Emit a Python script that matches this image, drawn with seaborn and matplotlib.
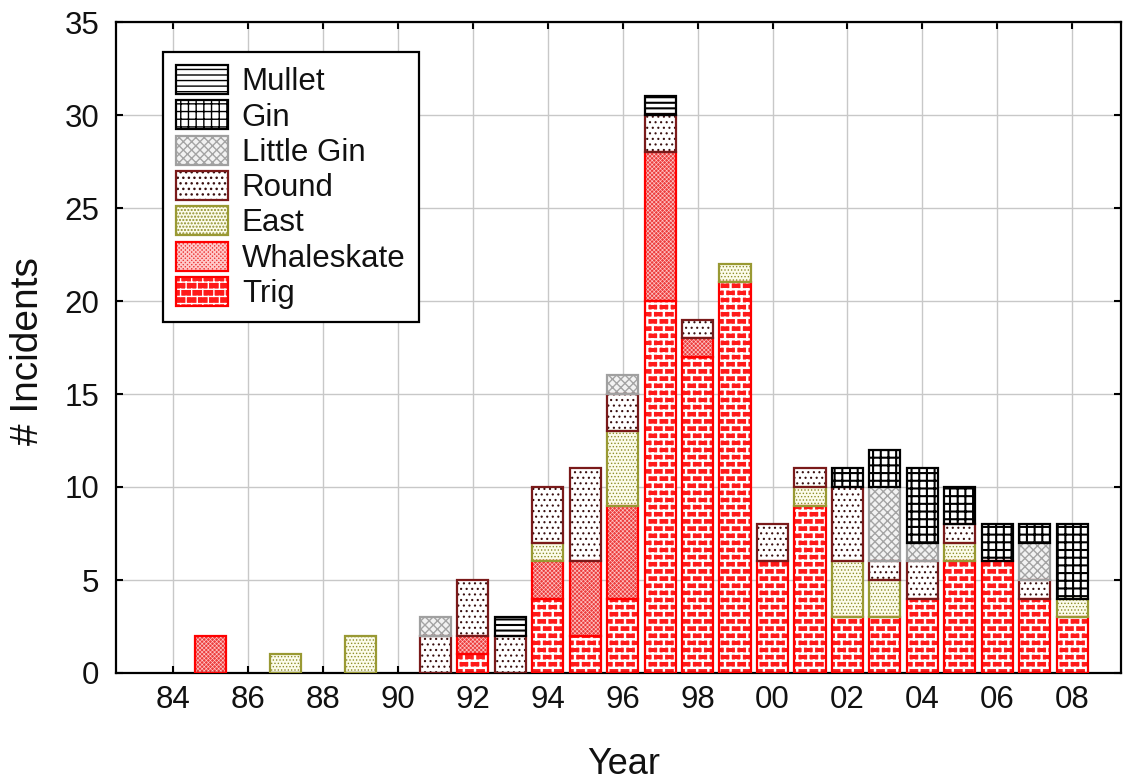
import warnings

import numpy as np
import pandas as pd
import matplotlib
matplotlib.use("Agg")
import matplotlib.pyplot as plt
from matplotlib import hatch as mhatch
from matplotlib.patches import Patch
from matplotlib.legend_handler import HandlerTuple
import seaborn as sns

warnings.filterwarnings("ignore")

# ---------------------------------------------------------------- data
years = list(range(84, 109))                      # 1984 .. 2008
tick_years = list(range(84, 109, 2))
tick_labels = ["84", "86", "88", "90", "92", "94", "96",
               "98", "00", "02", "04", "06", "08"]

trig       = [0, 0, 0, 0, 0, 0, 0, 0, 1, 0, 4, 2, 4, 20, 17, 21, 6, 9, 3, 3, 4, 6, 6, 4, 3]
whaleskate = [0, 2, 0, 0, 0, 0, 0, 0, 1, 0, 2, 4, 5, 8, 1, 0, 0, 0, 0, 0, 0, 0, 0, 0, 0]
east       = [0, 0, 0, 1, 0, 2, 0, 0, 0, 0, 1, 0, 4, 0, 0, 1, 0, 1, 3, 2, 0, 1, 0, 0, 1]
round_     = [0, 0, 0, 0, 0, 0, 0, 2, 3, 2, 3, 5, 2, 2, 1, 0, 2, 1, 4, 1, 2, 1, 0, 1, 0]
little_gin = [0, 0, 0, 0, 0, 0, 0, 1, 0, 0, 0, 0, 1, 0, 0, 0, 0, 0, 0, 4, 1, 0, 0, 2, 0]
gin        = [0, 0, 0, 0, 0, 0, 0, 0, 0, 0, 0, 0, 0, 0, 0, 0, 0, 0, 1, 2, 4, 2, 2, 1, 4]
mullet     = [0, 0, 0, 0, 0, 0, 0, 0, 0, 1, 0, 0, 0, 1, 0, 0, 0, 0, 0, 0, 0, 0, 0, 0, 0]

sites = ["Trig", "Whaleskate", "East", "Round", "Little Gin", "Gin", "Mullet"]
counts = [trig, whaleskate, east, round_, little_gin, gin, mullet]

df = pd.DataFrame({"year": np.tile(years, len(sites)),
                   "site": np.repeat(sites, len(years)),
                   "n": np.concatenate(counts)})
table = df.pivot(index="year", columns="site", values="n")[sites]


# ---------------------------------------------------------------- custom hatches
def _fill_segments(segs, vertices, codes):
    vertices[:] = np.asarray(segs, dtype=float).reshape(-1, 2)
    codes[0::2] = mhatch.Path.MOVETO
    codes[1::2] = mhatch.Path.LINETO


class BrickHatch(mhatch.HatchPatternBase):
    """Running-bond brick pattern, selected with the 'b' hatch character."""
    rows = 14
    cols = 9

    def __init__(self, hatch, density):
        self.active = "b" in hatch
        r, c = self.rows, self.cols
        self.num_vertices = 2 * (r + (r + 1) * c) if self.active else 0

    def set_vertices_and_codes(self, vertices, codes):
        r, c = self.rows, self.cols
        segs = []
        for k in range(r):
            y = (k + 0.5) / r
            segs.append(((0.0, y), (1.0, y)))
        for k in range(r):
            y0, y1 = (k + 0.5) / r, (k + 1.5) / r
            off = 0.5 * (k % 2)
            for j in range(c):
                x = (j + 0.25 + off) / c
                if y1 <= 1.0:
                    segs.append(((x, y0), (x, y1)))
                else:
                    segs.append(((x, y0), (x, 1.0)))
                    segs.append(((x, 0.0), (x, y1 - 1.0)))
        _fill_segments(segs, vertices, codes)


class GridHatch(mhatch.HatchPatternBase):
    """Square grid of 13 lines per inch, selected with the 'g' hatch character."""
    n = 13

    def __init__(self, hatch, density):
        self.active = "g" in hatch
        self.num_vertices = 4 * self.n if self.active else 0

    def set_vertices_and_codes(self, vertices, codes):
        segs = []
        for k in range(self.n):
            v = (k + 0.5) / self.n
            segs.append(((0.0, v), (1.0, v)))
            segs.append(((v, 0.0), (v, 1.0)))
        _fill_segments(segs, vertices, codes)


mhatch._hatch_types.extend([BrickHatch, GridHatch])

# ---------------------------------------------------------------- styles
styles = {
    "Trig":       dict(face="#ff1a1a", hatch="b",        hcol="white",   edge="#ff0000", hlw=1.7),
    "Whaleskate": dict(face="#ec3c3c", hatch="xxxxxxxx", hcol="#ffc8c8", edge="#ff0000", hlw=0.45),
    "East":       dict(face="#fbfbea", hatch=".....",    hcol="#8e8e2a", edge="#999933", hlw=0.6),
    "Round":      dict(face="white",   hatch="...",      hcol="#3a1010", edge="#7a1a1a", hlw=0.8),
    "Little Gin": dict(face="#f2f2f2", hatch="xxxx",     hcol="#a4a4a4", edge="#a0a0a0", hlw=1.0),
    "Gin":        dict(face="white",   hatch="g",        hcol="black",   edge="black",   hlw=1.5),
    "Mullet":     dict(face="white",   hatch="---",      hcol="black",   edge="black",   hlw=1.5),
}
EDGE_LW = 1.6
BAR_W = 0.83

sns.set_theme(style="whitegrid")
plt.rcParams["font.family"] = ["Liberation Sans", "DejaVu Sans"]
plt.rcParams["hatch.linewidth"] = 1.0

fig = plt.figure(figsize=(11.23, 7.82), dpi=100)
ax = fig.add_axes([116 / 1123, 1 - 673 / 782, (1121 - 116) / 1123, (673 - 22) / 782])
ax.set_facecolor("white")
ax.set_axisbelow(True)


def set_hlw(patch, lw):
    if hasattr(patch, "set_hatch_linewidth"):
        patch.set_hatch_linewidth(lw)


bottom = np.zeros(len(years))
x_all = np.array(years, dtype=float)
for site in sites:
    st = styles[site]
    vals = table[site].to_numpy(dtype=float)
    m = vals > 0
    filled = ax.bar(x_all[m], vals[m], BAR_W, bottom=bottom[m], color=st["face"],
                    edgecolor=st["hcol"], linewidth=0, hatch=st["hatch"], zorder=2)
    for p in filled.patches:
        set_hlw(p, st["hlw"])
    ax.bar(x_all[m], vals[m], BAR_W, bottom=bottom[m], fill=False,
           edgecolor=st["edge"], linewidth=EDGE_LW, zorder=3)
    bottom += vals

# ---------------------------------------------------------------- axes
ax.set_xlim(82.48, 109.3)
ax.set_ylim(0, 35)
ax.set_xticks(tick_years)
ax.set_xticklabels(tick_labels)
ax.set_yticks(range(0, 36, 5))
ax.grid(True, color="#c8c8c8", linewidth=1.0)
for s in ax.spines.values():
    s.set_visible(True)
    s.set_color("black")
    s.set_linewidth(1.6)
ax.tick_params(axis="both", which="major", direction="in", length=5, width=1.5,
               color="black", labelsize=22.5, labelcolor="#111111",
               top=True, right=True, bottom=True, left=True)
ax.tick_params(axis="x", pad=9)
ax.tick_params(axis="y", pad=12)

fig.text(624 / 1123, 1 - 765 / 782, "Year", fontsize=26, ha="center", va="center",
         color="#111111")
fig.text(28 / 1123, 1 - 351 / 782, "# Incidents", fontsize=28, ha="center",
         va="center", rotation=90, color="#111111")

# ---------------------------------------------------------------- legend
handles, labels = [], []
for site in reversed(sites):
    st = styles[site]
    fill = Patch(facecolor=st["face"], edgecolor=st["hcol"], linewidth=0, hatch=st["hatch"])
    set_hlw(fill, st["hlw"])
    outline = Patch(fill=False, edgecolor=st["edge"], linewidth=EDGE_LW)
    handles.append((fill, outline))
    labels.append(site)

leg = ax.legend(handles, labels, loc="upper left",
                bbox_to_anchor=(163 / 1123, 1 - 52 / 782),
                bbox_transform=fig.transFigure, borderaxespad=0,
                handler_map={tuple: HandlerTuple(ndivide=1)},
                fontsize=22.5, frameon=True, fancybox=False, framealpha=1,
                handlelength=1.65, handleheight=1.05, handletextpad=0.45,
                labelspacing=0.1, borderpad=0.42)
leg.get_frame().set_edgecolor("black")
leg.get_frame().set_linewidth(1.6)
for t in leg.get_texts():
    t.set_color("#111111")

fig.savefig("out.png", dpi=100, facecolor="white")
